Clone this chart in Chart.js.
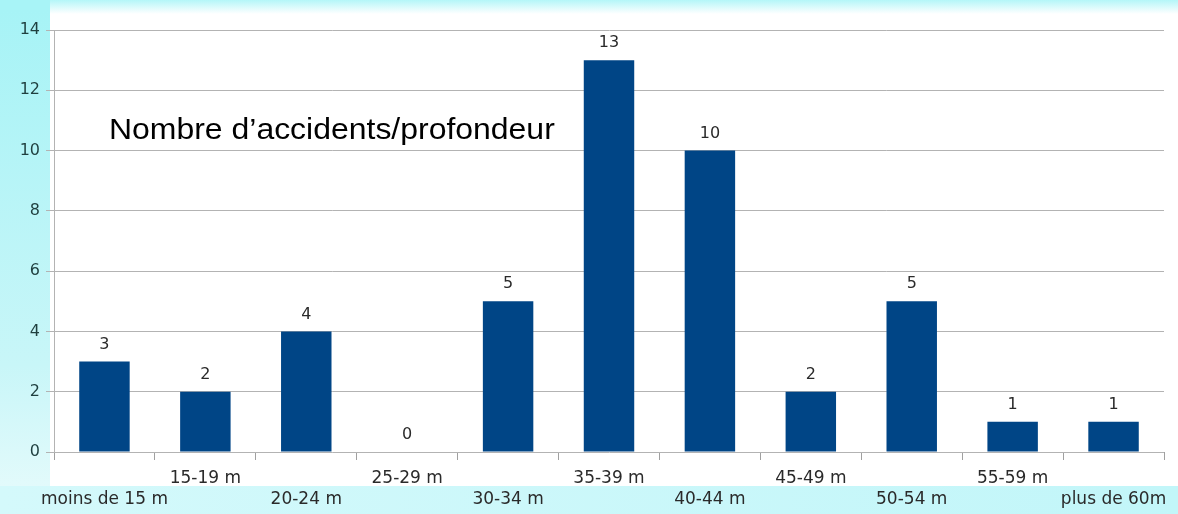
<!DOCTYPE html>
<html>
<head>
<meta charset="utf-8">
<script src="https://cdn.jsdelivr.net/npm/chart.js@4.4.1/dist/chart.umd.min.js"></script>
<style>
  html, body { margin: 0; padding: 0; background: #ffffff; }
  #wrap { width: 1178px; height: 514px; position: relative; }
</style>
</head>
<body>
<div id="wrap"><canvas id="c" width="1178" height="514"></canvas></div>
<script>
const categories = ['moins de 15 m', '15-19 m', '20-24 m', '25-29 m', '30-34 m', '35-39 m', '40-44 m', '45-49 m', '50-54 m', '55-59 m', 'plus de 60m'];
const accidents = [3, 2, 4, 0, 5, 13, 10, 2, 5, 1, 1];
const chartTitle = 'Nombre d\u2019accidents/profondeur';
const yTicks = [0, 2, 4, 6, 8, 10, 12, 14];

const bgPlugin = {
  id: 'bg',
  beforeDraw(chart) {
    const ctx = chart.ctx;
    const W = chart.width, H = chart.height;
    ctx.save();
    ctx.fillStyle = '#a8f4f7';
    ctx.fillRect(0, 0, W, H);
    const gb = ctx.createLinearGradient(0, 0, W, 0);
    gb.addColorStop(0, '#d4f9fb');
    gb.addColorStop(1, '#c2f6f9');
    ctx.fillStyle = gb;
    ctx.fillRect(0, 486, W, H - 486);
    const gl = ctx.createLinearGradient(0, 0, 0, 486);
    gl.addColorStop(0, '#a6f3f6');
    gl.addColorStop(0.75, '#c8f6f8');
    gl.addColorStop(1, '#e2fafb');
    ctx.fillStyle = gl;
    ctx.fillRect(0, 10, 50, 476);
    ctx.fillStyle = '#ffffff';
    ctx.fillRect(50, 10, W - 50, 476);
    const gt = ctx.createLinearGradient(0, 0, 0, 14);
    gt.addColorStop(0, '#b4f6f8');
    gt.addColorStop(1, '#ffffff');
    ctx.fillStyle = gt;
    ctx.fillRect(50, 0, W - 50, 14);
    ctx.restore();
  }
};

const overlayPlugin = {
  id: 'overlay',
  afterDatasetsDraw(chart) {
    const ctx = chart.ctx;
    const meta = chart.getDatasetMeta(0);
    const ys = chart.scales.y;
    ctx.save();
    ctx.font = '16px "DejaVu Sans", sans-serif';
    ctx.fillStyle = '#2a2a2a';
    ctx.textAlign = 'center';
    ctx.textBaseline = 'bottom';
    meta.data.forEach((bar, i) => {
      ctx.fillText(String(accidents[i]), bar.x, bar.y - 9);
    });
    // in-plot title (slightly stretched horizontally like the reference)
    ctx.font = '30px "Liberation Sans", Arial, sans-serif';
    ctx.fillStyle = '#000000';
    ctx.textAlign = 'left';
    ctx.textBaseline = 'middle';
    const tx = chart.chartArea.left + 55;
    const ty = ys.getPixelForValue(10.65);
    ctx.translate(tx, ty);
    ctx.scale(1.065, 1);
    ctx.fillText(chartTitle, 0, 0);
    ctx.restore();
  }
};

new Chart(document.getElementById('c'), {
  type: 'bar',
  data: {
    labels: categories,
    datasets: [{
      data: accidents,
      backgroundColor: '#004586',
      borderWidth: 0,
      barPercentage: 0.5,
      categoryPercentage: 1.0
    }]
  },
  options: {
    responsive: false,
    animation: false,
    layout: { padding: { top: 30, right: 14, left: 0, bottom: 0 } },
    plugins: { legend: { display: false }, title: { display: false }, tooltip: { enabled: false } },
    scales: {
      x: {
        offset: true,
        grid: {
          offset: true,
          drawOnChartArea: true,
          color: (c) => (c.index === categories.length ? '#a0a0a0' : 'rgba(0,0,0,0)'),
          tickColor: '#a0a0a0',
          tickLength: 8,
          lineWidth: 1
        },
        border: { display: false },
        ticks: {
          autoSkip: false,
          maxRotation: 0,
          minRotation: 0,
          padding: 8,
          color: '#2a2a2a',
          font: { family: '"DejaVu Sans", sans-serif', size: 17, lineHeight: 1.24 },
          callback: (v, i) => (i % 2 ? [categories[i], ''] : ['', categories[i]])
        },
        afterFit: (s) => { s.height = 62; }
      },
      y: {
        min: 0,
        max: 14,
        afterBuildTicks: (s) => { s.ticks = yTicks.map(v => ({ value: v })); },
        grid: { color: '#b3b3b3', tickColor: '#b3b3b3', tickLength: 8, lineWidth: 1 },
        border: { display: true, color: '#b3b3b3' },
        ticks: {
          color: '#1f3f3f',
          padding: 6,
          font: { family: '"DejaVu Sans", sans-serif', size: 16 }
        },
        afterFit: (s) => { s.width = 54; }
      }
    }
  },
  plugins: [bgPlugin, overlayPlugin]
});
</script>
</body>
</html>
